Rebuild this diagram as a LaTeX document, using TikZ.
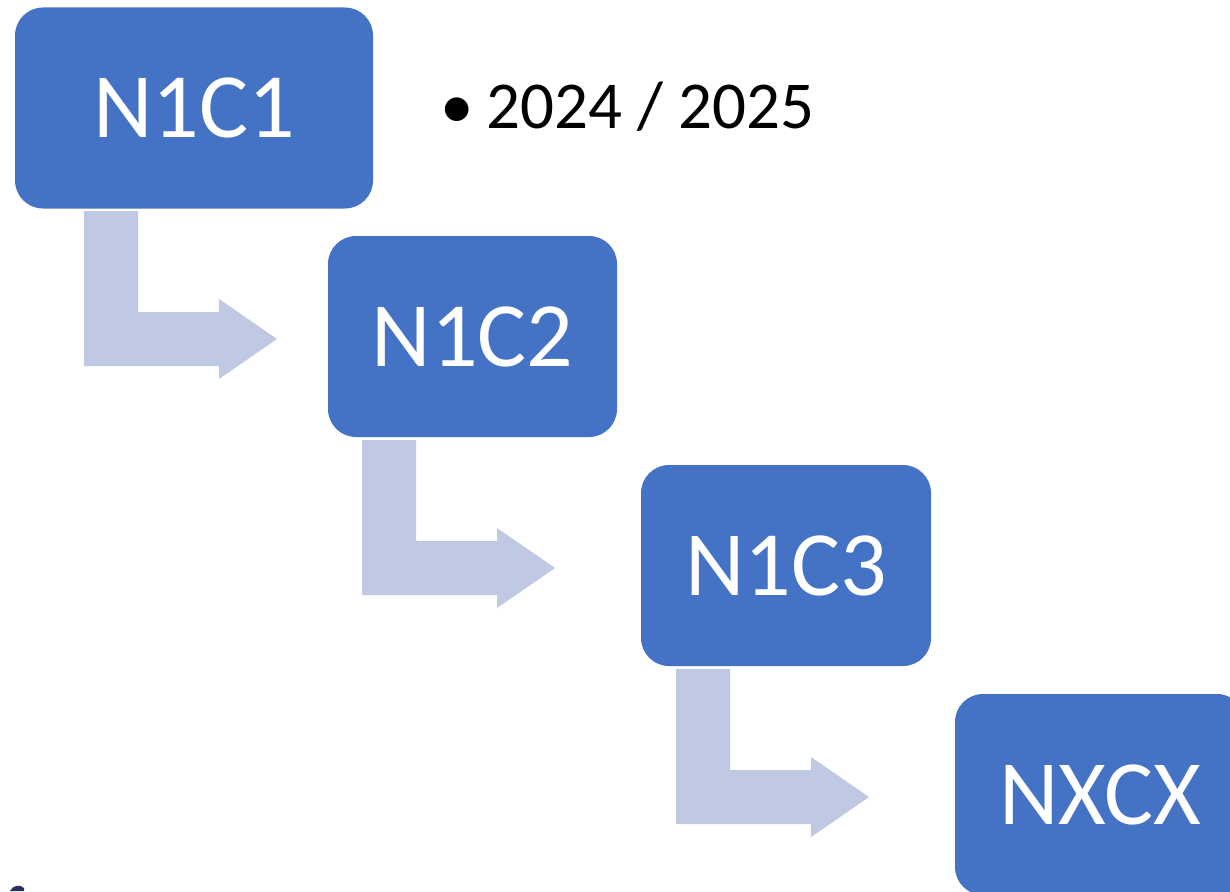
\documentclass[tikz,border=0pt]{standalone}
\usepackage{fontspec}
\setmainfont{Carlito}
\definecolor{boxblue}{HTML}{4472C4}
\definecolor{arrowgray}{HTML}{BFC9E3}
\definecolor{markblue}{HTML}{27305E}
\begin{document}
\begin{tikzpicture}[x=1pt,y=-1pt,
  stagebox/.style={rectangle, rounded corners=28pt, fill=boxblue, draw=none,
    text=white, inner sep=0pt, minimum height=201pt,
    font=\fontsize{92}{92}\selectfont},
  pics/bentarrow/.style={code={
    \fill[arrowgray] (0,0) -- (54,0) -- (54,101) -- (135,101) -- (135,88)
      -- (193,128) -- (135,168) -- (135,155) -- (0,155) -- cycle;}}
]
\useasboundingbox (0,0) rectangle (1230,891);
\clip (0,0) rectangle (1230,891);
\node[stagebox, minimum width=358pt] (c1) at (194,108) {N1C1};
\node[stagebox, minimum width=289pt] (c2) at (472.5,336.5) {N1C2};
\node[stagebox, minimum width=290pt] (c3) at (786,565.5) {N1C3};
\node[stagebox, minimum width=290pt] (cx) at (1100,794.5) {NXCX};
\pic at (84,211) {bentarrow};
\pic at (362,440) {bentarrow};
\pic at (676,669) {bentarrow};
\node[anchor=base west, inner sep=0pt, font=\fontsize{67}{67}\selectfont] (yr) at (440,128) {•\hspace{0.2em}2024 / 2025};
\fill[markblue] (10,891) .. controls (13,885) and (20,884) .. (24,888) -- (24,891) -- cycle;
\end{tikzpicture}
\end{document}
